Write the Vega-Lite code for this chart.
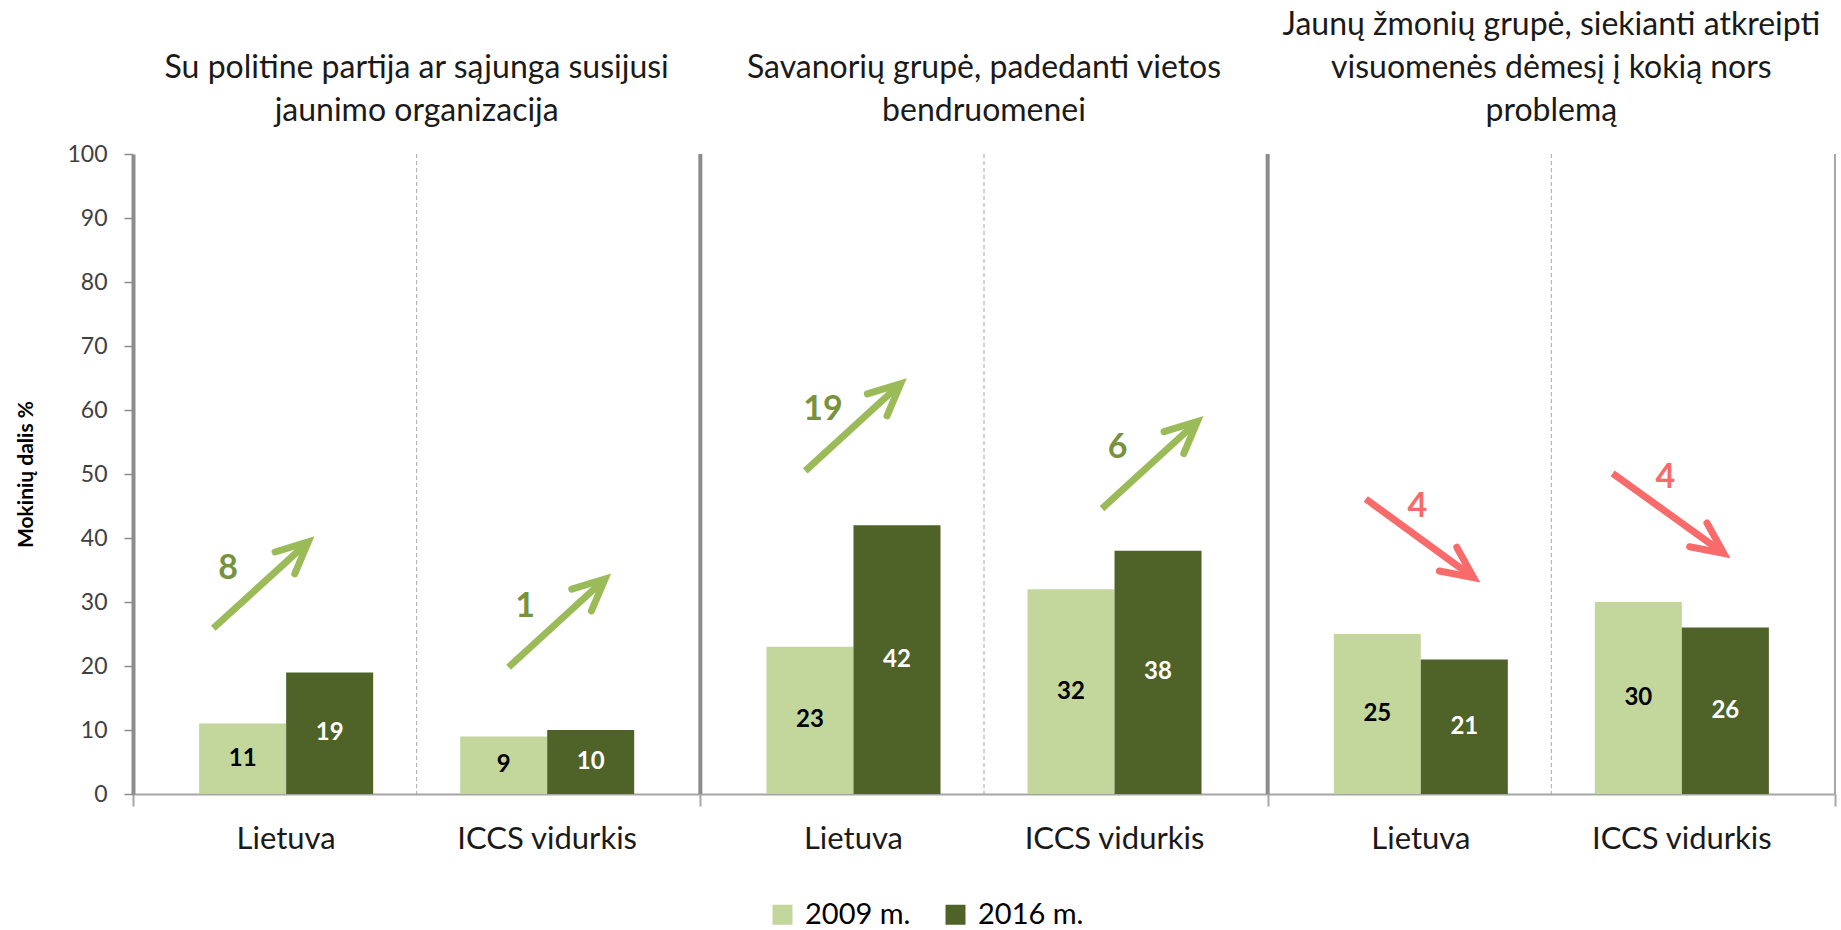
{
  "$schema": "https://vega.github.io/schema/vega-lite/v6.json",
  "width": 1702,
  "height": 640,
  "autosize": "none",
  "padding": {"left": 133, "top": 154, "right": 6, "bottom": 136},
  "config": {
    "view": {"stroke": null},
    "font": "Lato",
    "axisX": {"domainColor": "#A6A6A6", "domainWidth": 2, "tickColor": "#A6A6A6", "tickWidth": 2, "tickSize": 12, "labels": false, "tickBand": "extent", "grid": false}
  },
  "datasets": {
    "bars": [
      {"group": "g1", "cat": "Lietuva", "year": "2009 m.", "slot": "L2009", "value": 11},
      {"group": "g1", "cat": "Lietuva", "year": "2016 m.", "slot": "L2016", "value": 19},
      {"group": "g1", "cat": "ICCS vidurkis", "year": "2009 m.", "slot": "I2009", "value": 9},
      {"group": "g1", "cat": "ICCS vidurkis", "year": "2016 m.", "slot": "I2016", "value": 10},
      {"group": "g2", "cat": "Lietuva", "year": "2009 m.", "slot": "L2009", "value": 23},
      {"group": "g2", "cat": "Lietuva", "year": "2016 m.", "slot": "L2016", "value": 42},
      {"group": "g2", "cat": "ICCS vidurkis", "year": "2009 m.", "slot": "I2009", "value": 32},
      {"group": "g2", "cat": "ICCS vidurkis", "year": "2016 m.", "slot": "I2016", "value": 38},
      {"group": "g3", "cat": "Lietuva", "year": "2009 m.", "slot": "L2009", "value": 25},
      {"group": "g3", "cat": "Lietuva", "year": "2016 m.", "slot": "L2016", "value": 21},
      {"group": "g3", "cat": "ICCS vidurkis", "year": "2009 m.", "slot": "I2009", "value": 30},
      {"group": "g3", "cat": "ICCS vidurkis", "year": "2016 m.", "slot": "I2016", "value": 26}
    ],
    "groups": [
      {"group": "g1", "title": "Su politine partija ar sąjunga susijusi\njaunimo organizacija"},
      {"group": "g2", "title": "Savanorių grupė, padedanti vietos\nbendruomenei"},
      {"group": "g3", "title": "Jaunų žmonių grupė, siekianti atkreipti\nvisuomenės dėmesį į kokią nors\nproblemą"}
    ],
    "arrows": [
      {"id": "a1", "group": "g1", "pt": 0, "fx": 0.1415, "y": 25.9, "dir": "up"},
      {"id": "a1", "group": "g1", "pt": 1, "fx": 0.309, "y": 39.4, "dir": "up"},
      {"id": "a2", "group": "g1", "pt": 0, "fx": 0.662, "y": 19.8, "dir": "up"},
      {"id": "a2", "group": "g1", "pt": 1, "fx": 0.832, "y": 33.6, "dir": "up"},
      {"id": "a3", "group": "g2", "pt": 0, "fx": 0.185, "y": 50.5, "dir": "up"},
      {"id": "a3", "group": "g2", "pt": 1, "fx": 0.353, "y": 64.1, "dir": "up"},
      {"id": "a4", "group": "g2", "pt": 0, "fx": 0.708, "y": 44.6, "dir": "up"},
      {"id": "a4", "group": "g2", "pt": 1, "fx": 0.876, "y": 58.2, "dir": "up"},
      {"id": "a5", "group": "g3", "pt": 0, "fx": 0.173, "y": 46.1, "dir": "down"},
      {"id": "a5", "group": "g3", "pt": 1, "fx": 0.363, "y": 33.8, "dir": "down"},
      {"id": "a6", "group": "g3", "pt": 0, "fx": 0.608, "y": 50.1, "dir": "down"},
      {"id": "a6", "group": "g3", "pt": 1, "fx": 0.804, "y": 37.6, "dir": "down"}
    ],
    "arrowLabels": [
      {"group": "g1", "fx": 0.1675, "y": 35.2, "label": "8", "dir": "up"},
      {"group": "g1", "fx": 0.691, "y": 29.2, "label": "1", "dir": "up"},
      {"group": "g2", "fx": 0.216, "y": 60, "label": "19", "dir": "up"},
      {"group": "g2", "fx": 0.7356, "y": 54, "label": "6", "dir": "up"},
      {"group": "g3", "fx": 0.264, "y": 44.8, "label": "4", "dir": "down"},
      {"group": "g3", "fx": 0.701, "y": 49.4, "label": "4", "dir": "down"}
    ]
  },
  "resolve": {"scale": {"y": "independent", "xOffset": "independent"}},
  "layer": [
    {
      "data": {"name": "groups"},
      "mark": {"type": "rule", "color": "#A6A6A6", "strokeWidth": 1, "strokeDash": [4, 3]},
      "encoding": {
        "x": {"field": "group", "type": "nominal", "title": null, "bandPosition": 0.5, "scale": {"domain": ["g1", "g2", "g3"], "paddingInner": 0, "paddingOuter": 0}}
      }
    },
    {
      "data": {"name": "groups"},
      "transform": [{"filter": "datum.group !== 'g1'"}],
      "mark": {"type": "rule", "color": "#8C8C8C", "strokeWidth": 4},
      "encoding": {
        "x": {"field": "group", "type": "nominal", "title": null, "bandPosition": 0}
      }
    },
    {
      "data": {"name": "groups"},
      "transform": [{"filter": "datum.group === 'g3'"}],
      "mark": {"type": "rule", "color": "#A6A6A6", "strokeWidth": 2},
      "encoding": {
        "x": {"field": "group", "type": "nominal", "title": null, "bandPosition": 1}
      }
    },
    {
      "data": {"name": "bars"},
      "mark": {"type": "bar"},
      "encoding": {
        "x": {"field": "group", "type": "nominal", "title": null},
        "xOffset": {"field": "slot", "type": "nominal", "scale": {"type": "band", "domain": ["L2009", "L2016", "gap", "I2009", "I2016"], "paddingInner": 0, "paddingOuter": 0.76}},
        "y": {
          "field": "value", "type": "quantitative",
          "scale": {"domain": [0, 100], "nice": false},
          "axis": {
            "values": [0, 10, 20, 30, 40, 50, 60, 70, 80, 90, 100],
            "grid": false,
            "domainColor": "#8C8C8C", "domainWidth": 4,
            "tickColor": "#8C8C8C", "tickWidth": 1.5, "tickSize": 9,
            "labelFontSize": 23, "labelColor": "#3F3F3F", "labelPadding": 17, "labelFont": "Lato",
            "title": "Mokinių dalis %", "titleFontSize": 21, "titleFontWeight": "bold", "titleColor": "#000000", "titlePadding": 30, "titleFont": "Lato"
          }
        },
        "color": {
          "field": "year", "type": "nominal",
          "scale": {"domain": ["2009 m.", "2016 m."], "range": ["#C3D69B", "#4F6228"]},
          "legend": {
            "orient": "none", "legendX": 635, "legendY": 746, "direction": "horizontal", "title": null,
            "symbolType": "square", "symbolSize": 400, "symbolStrokeWidth": 0,
            "labelFontSize": 29, "labelFont": "Lato", "labelColor": "#000000",
            "labelOffset": 8, "columnPadding": 30
          }
        }
      }
    },
    {
      "data": {"name": "bars"},
      "mark": {"type": "text", "fontSize": 24, "fontWeight": "bold", "font": "Lato", "baseline": "middle", "align": "center"},
      "encoding": {
        "x": {"field": "group", "type": "nominal", "title": null},
        "xOffset": {"field": "slot", "type": "nominal", "scale": {"type": "band", "domain": ["L2009", "L2016", "gap", "I2009", "I2016"], "paddingInner": 0, "paddingOuter": 0.76}},
        "y": {"field": "value", "type": "quantitative", "scale": {"domain": [0, 200], "nice": false}, "axis": null},
        "text": {"field": "value", "type": "quantitative"},
        "color": {"condition": {"test": "datum.year === '2009 m.'", "value": "#000000"}, "value": "#FFFFFF"}
      }
    },
    {
      "data": {"name": "bars"},
      "transform": [{"filter": "datum.year === '2009 m.'"}],
      "mark": {"type": "text", "fontSize": 31, "font": "Lato", "baseline": "alphabetic", "align": "center", "dx": 43.5, "dy": 55, "color": "#1A1A1A"},
      "encoding": {
        "x": {"field": "group", "type": "nominal", "title": null},
        "xOffset": {"field": "slot", "type": "nominal", "scale": {"type": "band", "domain": ["L2009", "L2016", "gap", "I2009", "I2016"], "paddingInner": 0, "paddingOuter": 0.76}},
        "y": {"datum": 0, "type": "quantitative", "scale": {"domain": [0, 100], "nice": false}, "axis": null},
        "text": {"field": "cat", "type": "nominal"}
      }
    },
    {
      "data": {"name": "groups"},
      "transform": [{"filter": "datum.group !== 'g3'"}],
      "mark": {"type": "text", "fontSize": 32, "font": "Lato", "baseline": "alphabetic", "align": "center", "lineBreak": "\n", "lineHeight": 43, "dy": -76, "color": "#1A1A1A"},
      "encoding": {
        "x": {"field": "group", "type": "nominal", "title": null},
        "y": {"datum": 100, "type": "quantitative", "scale": {"domain": [0, 100], "nice": false}, "axis": null},
        "text": {"field": "title", "type": "nominal"}
      }
    },
    {
      "data": {"name": "groups"},
      "transform": [{"filter": "datum.group === 'g3'"}],
      "mark": {"type": "text", "fontSize": 32, "font": "Lato", "baseline": "alphabetic", "align": "center", "lineBreak": "\n", "lineHeight": 43, "dy": -119, "color": "#1A1A1A"},
      "encoding": {
        "x": {"field": "group", "type": "nominal", "title": null},
        "y": {"datum": 100, "type": "quantitative", "scale": {"domain": [0, 100], "nice": false}, "axis": null},
        "text": {"field": "title", "type": "nominal"}
      }
    },
    {
      "data": {"name": "arrows"},
      "mark": {"type": "line", "strokeWidth": 7, "strokeCap": "butt"},
      "encoding": {
        "x": {"field": "group", "type": "nominal", "title": null},
        "xOffset": {"field": "fx", "type": "quantitative", "scale": {"domain": [0, 1], "nice": false, "zero": false}},
        "y": {"field": "y", "type": "quantitative", "scale": {"domain": [0, 100], "nice": false}, "axis": null},
        "detail": {"field": "id", "type": "nominal"},
        "order": {"field": "pt", "type": "quantitative"},
        "color": {"condition": {"test": "datum.dir === 'up'", "value": "#9BBB59"}, "value": "#F96B6B"}
      }
    },
    {
      "data": {"name": "arrows"},
      "transform": [{"filter": "datum.pt === 1"}],
      "mark": {"type": "point", "shape": "M-0.9,-0.42L0,0L-0.9,0.42", "size": 4900, "filled": false, "strokeWidth": 7, "strokeCap": "round", "strokeJoin": "miter", "opacity": 1},
      "encoding": {
        "x": {"field": "group", "type": "nominal", "title": null},
        "xOffset": {"field": "fx", "type": "quantitative", "scale": {"domain": [0, 1], "nice": false, "zero": false}},
        "y": {"field": "y", "type": "quantitative", "scale": {"domain": [0, 100], "nice": false}, "axis": null},
        "angle": {"condition": {"test": "datum.dir === 'up'", "value": -42}, "value": 36},
        "color": {"condition": {"test": "datum.dir === 'up'", "value": "#9BBB59"}, "value": "#F96B6B"}
      }
    },
    {
      "data": {"name": "arrowLabels"},
      "mark": {"type": "text", "fontSize": 34, "fontWeight": "bold", "font": "Lato", "baseline": "middle", "align": "center"},
      "encoding": {
        "x": {"field": "group", "type": "nominal", "title": null},
        "xOffset": {"field": "fx", "type": "quantitative", "scale": {"domain": [0, 1], "nice": false, "zero": false}},
        "y": {"field": "y", "type": "quantitative", "scale": {"domain": [0, 100], "nice": false}, "axis": null},
        "text": {"field": "label", "type": "nominal"},
        "color": {"condition": {"test": "datum.dir === 'up'", "value": "#77933C"}, "value": "#F96B6B"}
      }
    }
  ]
}
